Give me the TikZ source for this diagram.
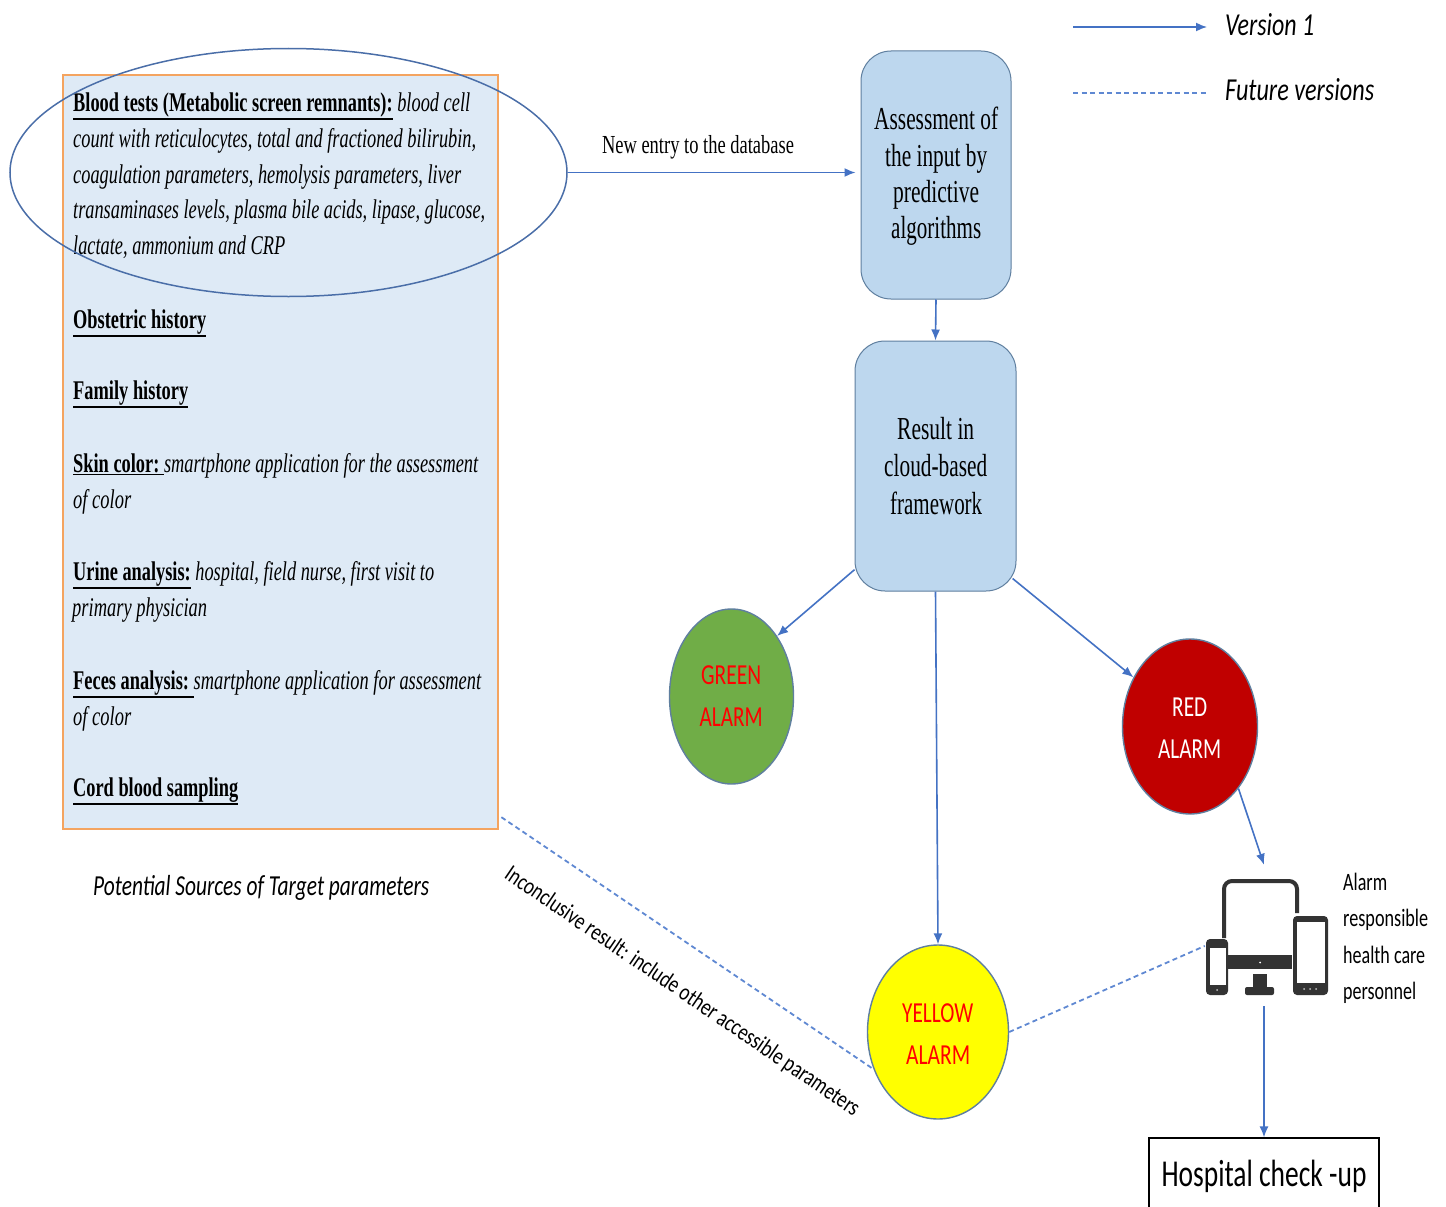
\documentclass[tikz,border=0pt]{standalone}
\usepackage{fontspec}
\setmainfont{Liberation Serif}
\newfontfamily\calf{Carlito}
\usetikzlibrary{shapes.geometric,arrows.meta}
\definecolor{conn}{HTML}{4472C4}
\definecolor{dashconn}{HTML}{5F88D2}
\definecolor{panelfill}{HTML}{DEEAF6}
\definecolor{panelline}{HTML}{F4A460}
\definecolor{boxfill}{HTML}{BDD7EE}
\definecolor{boxline}{HTML}{5F7F9F}
\definecolor{ringline}{HTML}{4A6EA8}
\definecolor{icondark}{HTML}{333333}
\definecolor{alarmgreen}{HTML}{70AD47}
\definecolor{alarmred}{HTML}{C00000}
\definecolor{alarmyellow}{HTML}{FFFF00}
\definecolor{alarmtext}{HTML}{FF0000}
\newsavebox\fitbox
\newcommand\fitted[2]{\sbox\fitbox{#2}\scalebox{\fpeval{#1/\the\wd\fitbox}}[1]{\usebox\fitbox}}
\newcommand\tline[5]{\node[anchor=base west,inner sep=0pt,text=black] (#1) at (#2,#3) {\fitted{#4}{#5}};}
\newcommand\ulb[1]{\leavevmode\vtop{\hbox{\bfseries #1}\kern 1.5pt\hrule height 1.6pt}}
\newcommand\panelsize{\fontsize{27}{30}\selectfont}
\newcommand\boxsize{\fontsize{32}{36}\selectfont}
\newcommand\calsize{\fontsize{29}{32}\selectfont\calf}
\tikzset{
  flow/.style={draw=conn,line width=1.6pt,-{Latex[length=11pt,width=9pt]}},
  future/.style={draw=dashconn,line width=1.8pt,dash pattern=on 5pt off 3.5pt},
  algobox/.style={draw=boxline,line width=1pt,fill=boxfill,rounded corners=30pt,inner sep=0pt},
  alarm/.style={ellipse,draw=boxline,line width=1.4pt,inner sep=0pt},
}
\begin{document}
\begin{tikzpicture}[x=1pt,y=-1pt]
\useasboundingbox (0,0) rectangle (1446,1207);
\clip (0,0) rectangle (1446,1207);
\fill[white] (0,0) rectangle (1446,1207);

% source panel
\node[draw=panelline,line width=1.8pt,fill=panelfill,inner sep=0pt,minimum width=435pt,minimum height=754pt] (panel) at (280.5,452) {};

\tline{p1}{73}{111}{397}{\panelsize\ulb{Blood tests (Metabolic screen remnants):}\itshape\ blood cell}
\tline{p2}{73}{147}{403}{\panelsize\itshape count with reticulocytes, total and fractioned bilirubin,}
\tline{p3}{73}{183}{388}{\panelsize\itshape coagulation parameters, hemolysis parameters, liver}
\tline{p4}{73}{218.5}{412}{\panelsize\itshape transaminases levels, plasma bile acids, lipase, glucose,}
\tline{p5}{73}{254}{212}{\panelsize\itshape lactate, ammonium and CRP}
\tline{p6}{73}{328}{133}{\panelsize\ulb{Obstetric history}}
\tline{p7}{73}{399}{115}{\panelsize\ulb{Family history}}
\tline{p8}{73}{472}{405}{\panelsize\ulb{Skin color:\ }\itshape smartphone application for the assessment}
\tline{p9}{73}{508}{58}{\panelsize\itshape of color}
\tline{p10}{73}{580}{361}{\panelsize\ulb{Urine analysis:}\itshape\ hospital, field nurse, first visit to}
\tline{p11}{72}{616}{135}{\panelsize\itshape primary physician}
\tline{p12}{73}{689}{408}{\panelsize\ulb{Feces analysis:\ }\itshape smartphone application for assessment}
\tline{p13}{73}{725}{58}{\panelsize\itshape of color}
\tline{p14}{73}{796}{165}{\panelsize\ulb{Cord blood sampling}}

\node[ellipse,draw=ringline,line width=1.5pt,inner sep=0pt,minimum width=557pt,minimum height=248pt] (ring) at (288.5,172.5) {};

\tline{cap}{93}{895}{336}{\calsize\itshape Potential Sources of Target parameters}

% algorithm boxes
\node[algobox,minimum width=150pt,minimum height=248pt] (assess) at (936,175) {};
\tline{a1}{874}{129}{124}{\boxsize Assessment of}
\tline{a2}{885}{166}{102}{\boxsize the input by}
\tline{a3}{893}{202}{86}{\boxsize predictive}
\tline{a4}{891}{238}{90}{\boxsize algorithms}

\node[algobox,minimum width=161pt,minimum height=250pt] (result) at (935.5,466) {};
\tline{r1}{897}{439}{77}{\boxsize Result in}
\tline{r2}{884}{476}{103}{\boxsize cloud-based}
\tline{r3}{890}{514}{92}{\boxsize framework}

% alarms
\node[alarm,fill=alarmgreen,minimum width=124pt,minimum height=175pt] (green) at (731.5,696.5) {};
\tline{g1}{701}{684}{60}{\calsize\color{alarmtext} GREEN}
\tline{g2}{699.5}{726}{63}{\calsize\color{alarmtext} ALARM}
\node[alarm,fill=alarmred,minimum width=135pt,minimum height=175pt] (redal) at (1190,726.5) {};
\tline{d1}{1172}{716}{35}{\calsize\color{white} RED}
\tline{d2}{1158}{758}{63}{\calsize\color{white} ALARM}
\node[alarm,fill=alarmyellow,minimum width=141pt,minimum height=174pt] (yellowal) at (938,1032) {};
\tline{y1}{902}{1022}{71}{\calsize\color{alarmtext} YELLOW}
\tline{y2}{906}{1064}{64}{\calsize\color{alarmtext} ALARM}

% device icon
\node[inner sep=0pt,minimum width=118pt,minimum height=141pt] (icon) at (1264,935.5) {};
\draw[icondark,line width=4pt,line cap=butt,rounded corners=8pt] (1224,938) -- (1224,881) -- (1297,881) -- (1297,913);
\fill[icondark] (1228,955) rectangle (1292,969);
\fill[white] (1260,962.5) circle (1pt);
\fill[icondark] (1253,974) rectangle (1267,988);
\fill[icondark,rounded corners=2pt] (1245,987) rectangle (1274,995);
\fill[icondark,rounded corners=4pt] (1293,916) rectangle (1328,995);
\fill[white] (1296.5,922) rectangle (1324.5,983);
\foreach \dx in {1304,1310,1316} \fill[white!70!icondark] (\dx,989) circle (1pt);
\fill[icondark,rounded corners=4pt] (1206,939) rectangle (1228,995);
\fill[white] (1209.5,948) rectangle (1226,985);
\fill[white!70!icondark] (1217,990) circle (1pt);

\tline{s1}{1343}{890}{44}{\fontsize{25}{28}\selectfont\calf Alarm}
\tline{s2}{1343}{926}{85}{\fontsize{25}{28}\selectfont\calf responsible}
\tline{s3}{1343}{963}{82}{\fontsize{25}{28}\selectfont\calf health care}
\tline{s4}{1343}{999}{73}{\fontsize{25}{28}\selectfont\calf personnel}

% hospital
\node[draw=black,line width=1.2pt,fill=white,inner sep=0pt,minimum width=230pt,minimum height=76pt] (hospital) at (1264,1176) {\fitted{205}{\fontsize{38}{42}\selectfont\calf Hospital check -up}};

% legend
\coordinate (lega) at (1073,27);
\coordinate (legb) at (1207,27);
\coordinate (legc) at (1073,93);
\coordinate (legd) at (1206,93);
\draw[flow] (lega) -- (legb);
\draw[future] (legc) -- (legd);
\tline{v1}{1225}{36}{89}{\fontsize{32}{36}\selectfont\calf\itshape Version 1}
\tline{v2}{1225}{100}{149}{\fontsize{32}{36}\selectfont\calf\itshape Future versions}

% connectors
\draw[flow,shorten >=5pt] (ring.east) -- (ring.east -| assess.west);
\node[inner sep=0pt] (newentry) at (698,147) {\fitted{192}{\fontsize{26}{30}\selectfont New entry to the database}};
\draw[flow] (assess.south) -- (result.north);
\draw[flow] (result.232) -- (green.53);
\draw[flow,shorten <=-5pt] (result.-55) -- (redal.139);
\draw[flow] (result.south) -- (yellowal.north);
\draw[flow] (redal.-52) -- (icon.north);
\draw[flow] (icon.south) -- (hospital.north);
\draw[future,shorten <=3pt] (panel.-59.4) -- (yellowal.210.7);
\draw[future] (yellowal.east) -- (icon.190);
\node[inner sep=0pt,rotate=-34.3] (inconcl) at (682,992) {\fitted{424}{\fontsize{24}{28}\selectfont\calf Inconclusive result: include other accessible parameters}};
\end{tikzpicture}
\end{document}
